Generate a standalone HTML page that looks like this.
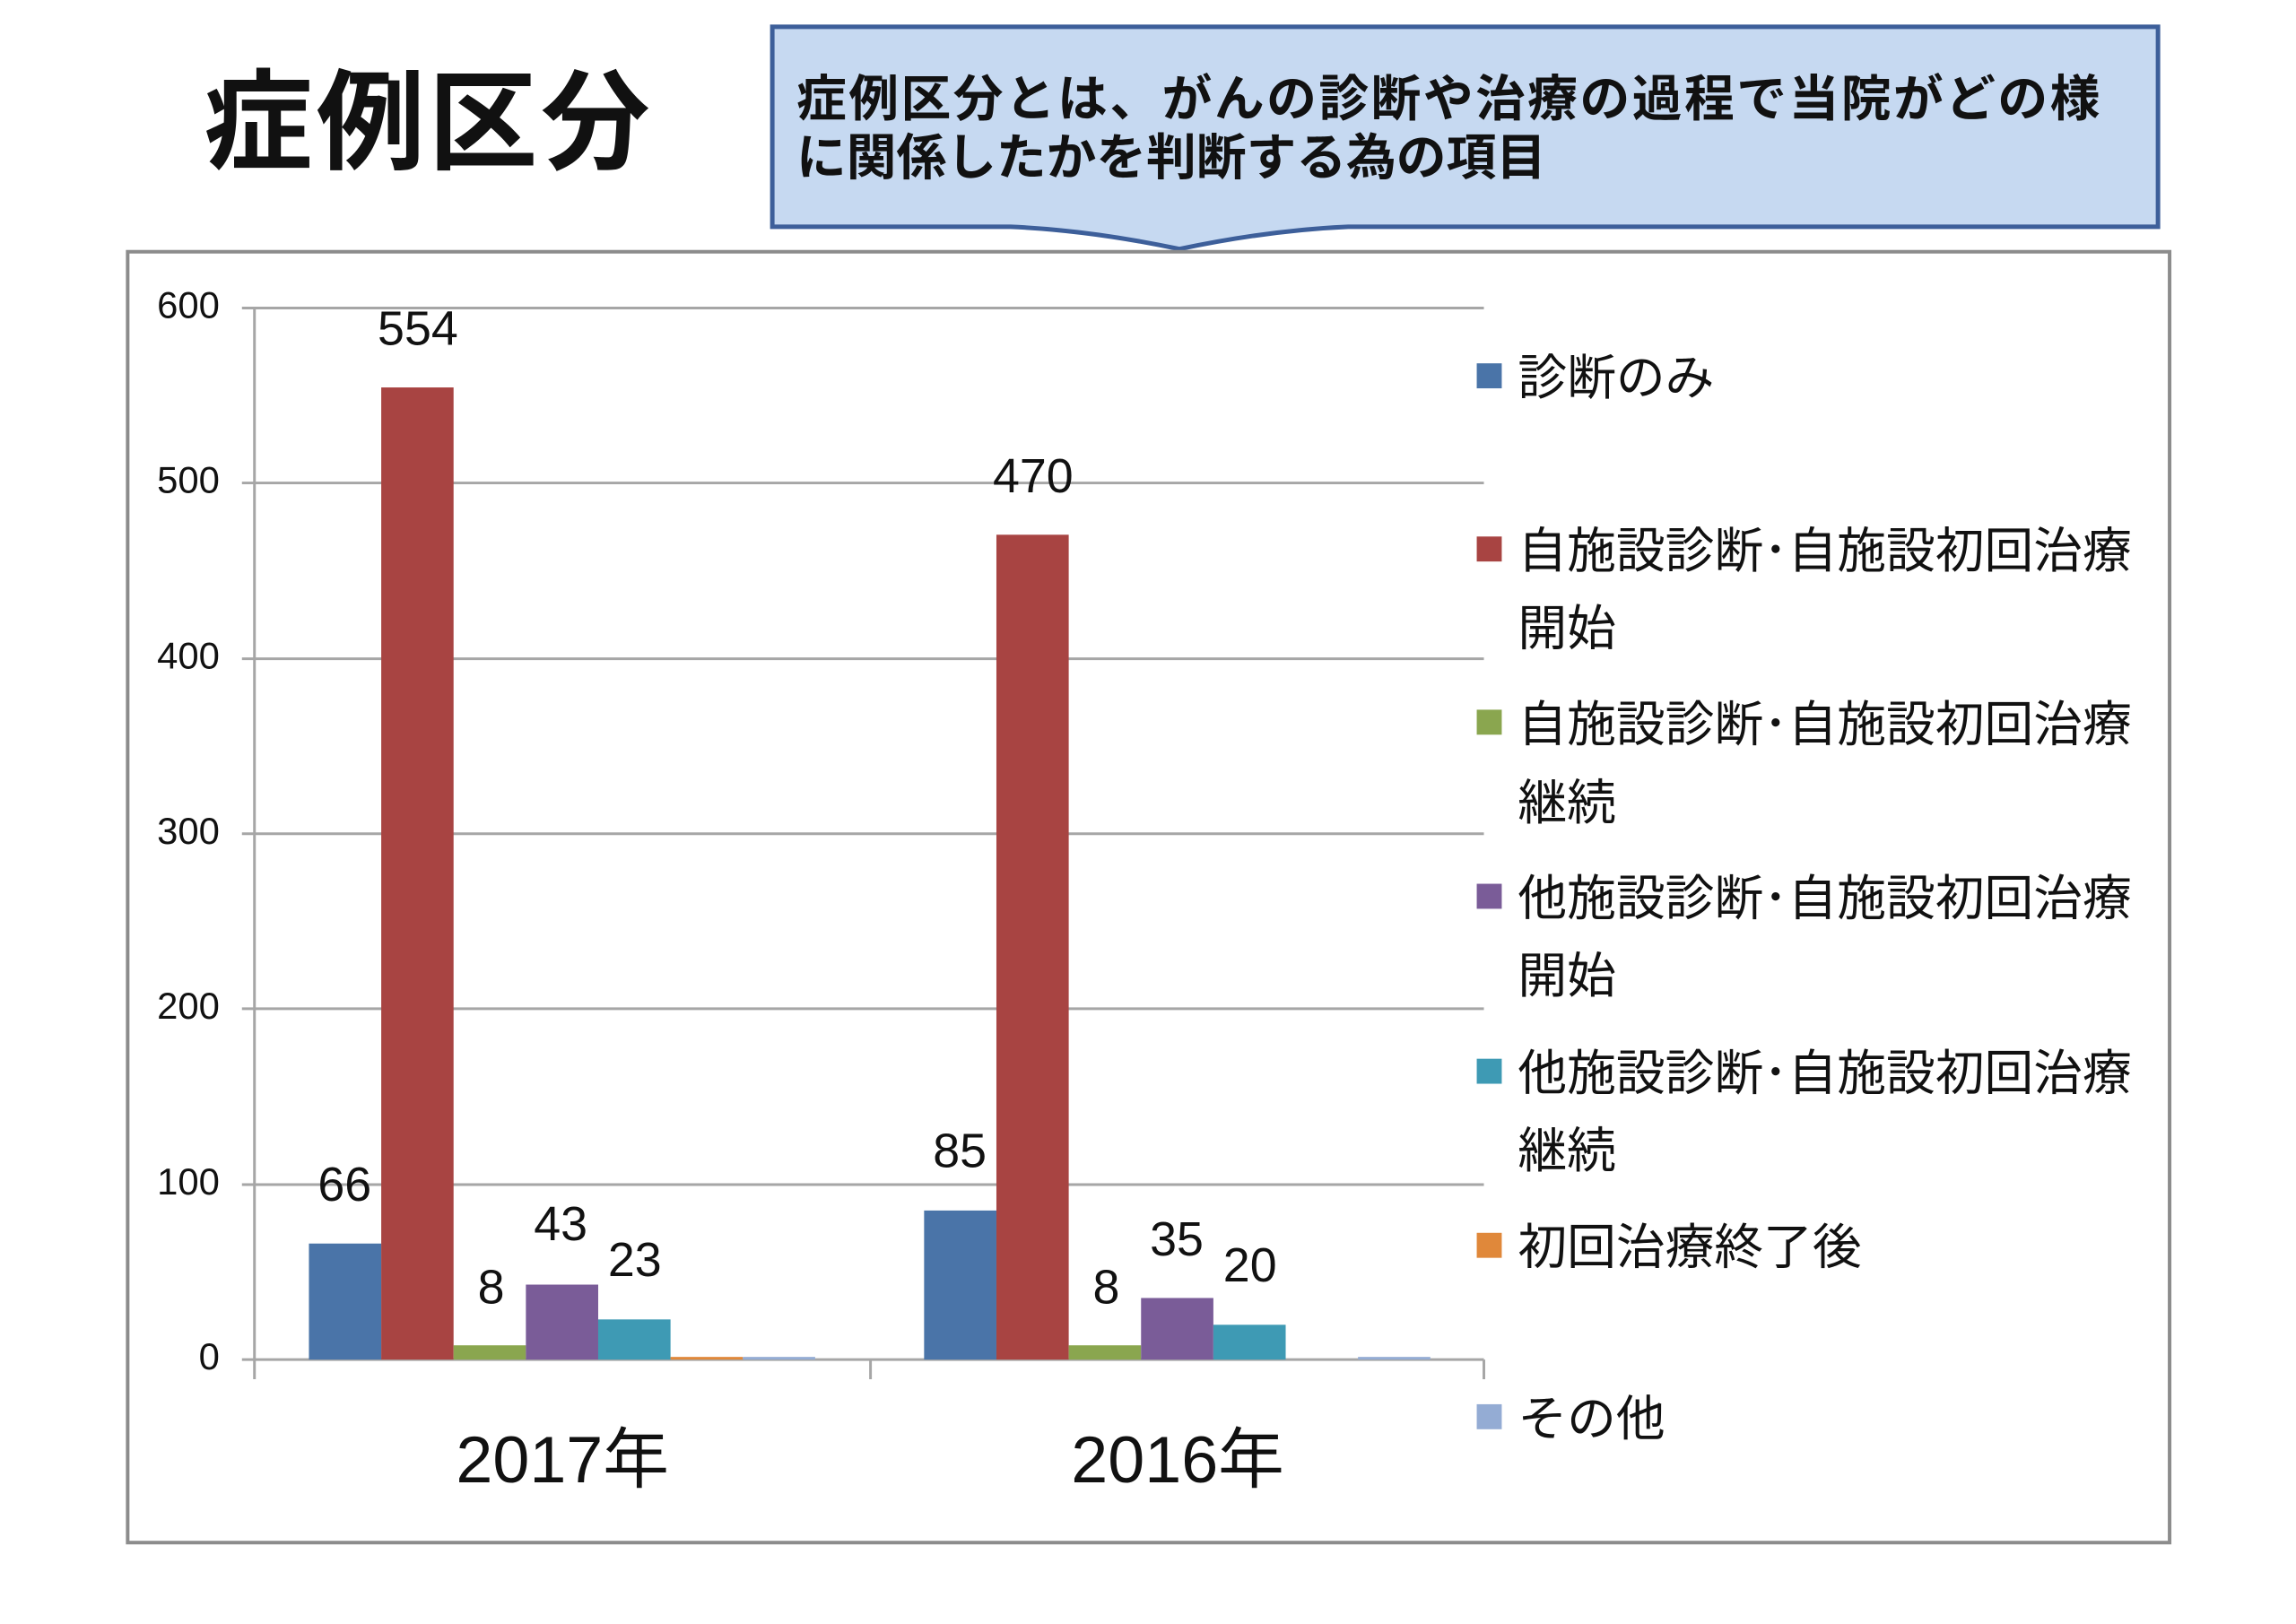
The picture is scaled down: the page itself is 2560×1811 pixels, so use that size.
<!DOCTYPE html>
<html><head><meta charset="utf-8"><style>
html,body{margin:0;padding:0;background:#fff;}
svg{display:block;}
text{font-family:"Liberation Sans Narrow","Liberation Sans","Noto Sans CJK JP",sans-serif;fill:#111;}
.jp{font-family:"Liberation Sans","Noto Sans CJK JP",sans-serif;}
</style></head><body>
<svg width="2560" height="1811" viewBox="0 0 2560 1811" xmlns="http://www.w3.org/2000/svg">
<rect width="2560" height="1811" fill="#fff"/>
<g transform="scale(0.9955)">
<text class="jp" x="228" y="180" font-size="122" font-weight="bold" letter-spacing="4">症例区分</text>
<path d="M865,30 H2417 V254 H1510 Q1420,258 1321,279 Q1222,258 1132,254 H865 Z" fill="#c6d9f1" stroke="#3d5f9a" stroke-width="5"/>
<text class="jp" x="892" y="130" font-size="56" font-weight="bold" textLength="1460">症例区分とは、がんの診断や治療の過程で当院がどの様</text>
<text class="jp" x="892" y="196" font-size="56" font-weight="bold">に関係したかを判断する為の項目</text>
<rect x="143" y="282" width="2287" height="1446" fill="#fff" stroke="#8c8c8c" stroke-width="4"/>
<g stroke="#a6a6a6" stroke-width="3">
<line x1="271" y1="345" x2="1662" y2="345"/>
<line x1="271" y1="541" x2="1662" y2="541"/>
<line x1="271" y1="738" x2="1662" y2="738"/>
<line x1="271" y1="934" x2="1662" y2="934"/>
<line x1="271" y1="1130" x2="1662" y2="1130"/>
<line x1="271" y1="1327" x2="1662" y2="1327"/>
<line x1="271" y1="1523" x2="1662" y2="1523"/>
<line x1="285" y1="345" x2="285" y2="1545"/>
<line x1="975" y1="1523" x2="975" y2="1545"/>
<line x1="1662" y1="1523" x2="1662" y2="1545"/>
</g>
<g font-size="42" text-anchor="end" dominant-baseline="middle">
<text x="246" y="345">600</text><text x="246" y="541">500</text><text x="246" y="738">400</text>
<text x="246" y="934">300</text><text x="246" y="1130">200</text><text x="246" y="1327">100</text><text x="246" y="1523">0</text>
</g>
<g>
<rect x="346" y="1393" width="81" height="130" fill="#4a74a8"/>
<rect x="427" y="434" width="81" height="1089" fill="#a84442"/>
<rect x="508" y="1507" width="81" height="16" fill="#8aa64f"/>
<rect x="589" y="1439" width="81" height="84" fill="#7a5c98"/>
<rect x="670" y="1478" width="81" height="45" fill="#3e9ab4"/>
<rect x="751" y="1520" width="81" height="3" fill="#e0883a"/>
<rect x="832" y="1520" width="81" height="3" fill="#94acd4"/>
<rect x="1035" y="1356" width="81" height="167" fill="#4a74a8"/>
<rect x="1116" y="599" width="81" height="924" fill="#a84442"/>
<rect x="1197" y="1507" width="81" height="16" fill="#8aa64f"/>
<rect x="1278" y="1454" width="81" height="69" fill="#7a5c98"/>
<rect x="1359" y="1484" width="81" height="39" fill="#3e9ab4"/>
<rect x="1521" y="1520" width="81" height="3" fill="#94acd4"/>
</g>
<g font-size="54" text-anchor="middle" dominant-baseline="middle">
<text x="386" y="1331">66</text><text x="468" y="372">554</text><text x="550" y="1446">8</text>
<text x="628" y="1375">43</text><text x="711" y="1415">23</text>
<text x="1075" y="1293">85</text><text x="1157" y="537">470</text><text x="1239" y="1446">8</text>
<text x="1318" y="1392">35</text><text x="1400" y="1421">20</text>
</g>
<g font-size="74" text-anchor="middle" dominant-baseline="middle">
<text x="630" y="1641">2017年</text><text x="1319" y="1641">2016年</text>
</g>
<g class="jp" font-size="55">
<rect x="1654" y="407" width="28" height="28" fill="#4a74a8"/><text class="jp" x="1700" y="442">診断のみ</text>
<rect x="1654" y="601" width="28" height="28" fill="#a84442"/><text class="jp" x="1700" y="636">自施設診断･自施設初回治療</text><text class="jp" x="1700" y="723">開始</text>
<rect x="1654" y="795" width="28" height="28" fill="#8aa64f"/><text class="jp" x="1700" y="830">自施設診断･自施設初回治療</text><text class="jp" x="1700" y="918">継続</text>
<rect x="1654" y="990" width="28" height="28" fill="#7a5c98"/><text class="jp" x="1700" y="1025">他施設診断･自施設初回治療</text><text class="jp" x="1700" y="1112">開始</text>
<rect x="1654" y="1186" width="28" height="28" fill="#3e9ab4"/><text class="jp" x="1700" y="1221">他施設診断･自施設初回治療</text><text class="jp" x="1700" y="1308">継続</text>
<rect x="1654" y="1381" width="28" height="28" fill="#e0883a"/><text class="jp" x="1700" y="1416">初回治療終了後</text>
<rect x="1654" y="1573" width="28" height="28" fill="#94acd4"/><text class="jp" x="1700" y="1608">その他</text>
</g>
</g>
</svg>
</body></html>
